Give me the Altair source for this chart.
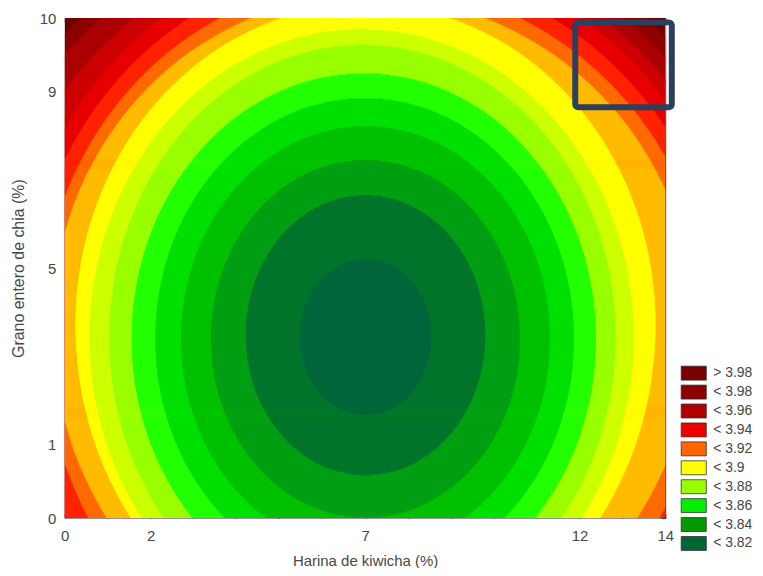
import numpy as np
import pandas as pd
import altair as alt

# ---- data -----------------------------------------------------------------
# contour lines (innermost first): level, centre and the four semi-axes
# (left, right, up, down); x in "Harina de kiwicha (%)", y in the coded
# design unit of the y axis
contour_levels = [3.82, 3.83, 3.84, 3.85, 3.86, 3.87, 3.88, 3.89,
                  3.90, 3.91, 3.92, 3.93, 3.94, 3.95, 3.96, 3.97]
contour_cx = [7.01, 7.01, 7.01, 7.01, 6.99, 6.97, 6.94, 6.92,
              7.01, 7.01, 7.01, 7.01, 7.01, 7.01, 7.01, 7.01]
contour_cy = [-0.39, -0.38, -0.40, -0.40, -0.40, -0.40, -0.39, -0.39,
              -0.32, -0.32, -0.32, -0.32, -0.32, -0.32, -0.32, -0.32]
contour_left = [1.53, 2.79, 3.60, 4.30, 4.88, 5.41, 5.90, 6.34,
                6.76, 7.30, 7.55, 7.89, 8.24, 8.80, 9.50, 9.82]
contour_right = [1.53, 2.79, 3.60, 4.30, 4.88, 5.41, 5.90, 6.34,
                 6.76, 7.66, 8.01, 8.36, 8.73, 9.03, 9.36, 9.68]
contour_up = [0.44, 0.79, 1.01, 1.20, 1.36, 1.50, 1.65, 1.74,
              1.81, 1.86, 1.94, 2.03, 2.12, 2.19, 2.27, 2.35]
contour_down = [0.44, 0.79, 1.01, 1.20, 1.36, 1.50, 1.65, 1.74,
                1.86, 1.94, 2.11, 2.42, 2.54, 2.65, 2.76, 2.87]

band_colors = ["#00663a", "#00742a", "#009e12", "#00c000", "#00e000",
               "#22ff00", "#99ff00", "#ccff00", "#ffff00", "#ffbb00",
               "#ff6a00", "#ff2200", "#e60000", "#cc0000", "#aa0000",
               "#8c0000", "#6e0000"]

legend_labels = ["> 3.98", "< 3.98", "< 3.96", "< 3.94", "< 3.92",
                 "< 3.9", "< 3.88", "< 3.86", "< 3.84", "< 3.82"]
legend_colors = ["#7a0000", "#8c0000", "#b00000", "#ee0000", "#ff6600",
                 "#ffff00", "#99ff00", "#00ee00", "#009900", "#006633"]

x_tick_values = [0, 2, 7, 12, 14]
y_tick_coded = [-1.41421, -1.0, 0.0, 1.0, 1.41421]
y_tick_labels = ["0", "1", "5", "9", "10"]

box_x = [11.9, 14.15]
box_y = [0.91, 1.39]

# ---- build the filled contour bands as row strips ---------------------------
X0, X1 = 0.0, 14.0
Y0, Y1 = y_tick_coded[0], y_tick_coded[-1]
n_rows = 502
edges = np.linspace(Y0, Y1, n_rows + 1)
eps = 0.002

rows = [dict(x0=X0, x1=X1, y0=Y0, y1=Y1, band=len(contour_levels))]
for n in reversed(range(len(contour_levels))):
    for i in range(n_rows):
        yc = 0.5 * (edges[i] + edges[i + 1])
        ay = contour_up[n] if yc >= contour_cy[n] else contour_down[n]
        d = (yc - contour_cy[n]) / ay
        if abs(d) >= 1:
            continue
        f = np.sqrt(1 - d * d)
        a = max(contour_cx[n] - contour_left[n] * f, X0)
        b = min(contour_cx[n] + contour_right[n] * f, X1)
        if b > a:
            rows.append(dict(x0=round(a, 4), x1=round(b, 4),
                             y0=round(edges[i] - eps, 4),
                             y1=round(edges[i + 1] + eps, 4), band=n))
bands = pd.DataFrame(rows)

xscale = alt.Scale(domain=[X0, X1], nice=False, zero=False)
yscale = alt.Scale(domain=[Y0, Y1], nice=False, zero=False)

label_expr = "'" + y_tick_labels[-1] + "'"
for k in range(len(y_tick_coded) - 2, -1, -1):
    mid = 0.5 * (y_tick_coded[k] + y_tick_coded[k + 1])
    label_expr = f"datum.value < {mid:.3f} ? '{y_tick_labels[k]}' : ({label_expr})"

FONT = "Liberation Sans"
TXT = "#474747"

band_layer = alt.Chart(bands).mark_rect(clip=True, strokeWidth=0).encode(
    x=alt.X("x0:Q", scale=xscale,
            axis=alt.Axis(values=x_tick_values, tickSize=0, domain=False,
                          labelPadding=11, labelFontSize=15, labelColor=TXT,
                          labelFont=FONT, title="Harina de kiwicha (%)",
                          titleFont=FONT, titleFontSize=15, titleColor=TXT,
                          titleFontWeight="normal", titlePadding=10,
                          grid=False, labelFlush=False)),
    x2="x1:Q",
    y=alt.Y("y0:Q", scale=yscale,
            axis=alt.Axis(values=y_tick_coded, labelExpr=label_expr,
                          tickSize=0, domain=False, labelPadding=9,
                          labelFontSize=15, labelColor=TXT, labelFont=FONT,
                          title="Grano entero de chia (%)", titleFont=FONT,
                          titleFontSize=16, titleColor=TXT,
                          titleFontWeight="normal", titlePadding=13,
                          grid=False, labelFlush=False)),
    y2="y1:Q",
    color=alt.Color("band:O",
                    scale=alt.Scale(domain=list(range(len(band_colors))),
                                    range=band_colors),
                    legend=None),
)

box_df = pd.DataFrame({"bx0": [box_x[0]], "bx1": [box_x[1]],
                       "by0": [box_y[0]], "by1": [box_y[1]]})
tick_axis = dict(labels=False, domain=False, title=None, grid=False,
                 tickSize=4, tickColor="#333333", tickWidth=1, offset=-4)
box_layer = alt.Chart(box_df).mark_rect(
    filled=False, stroke="#2b3f5e", strokeWidth=6, cornerRadius=3
).encode(
    x=alt.X("bx0:Q", scale=xscale,
            axis=alt.Axis(values=list(range(15)), orient="bottom", **tick_axis)),
    x2="bx1:Q",
    y=alt.Y("by0:Q", scale=yscale,
            axis=alt.Axis(values=[round(-1.4 + 0.2 * k, 2) for k in range(15)],
                          orient="left", **tick_axis)),
    y2="by1:Q",
)

legend_df = pd.DataFrame({"label": legend_labels, "color": legend_colors})
legend_layer = alt.Chart(legend_df).transform_calculate(
    lx="0", ly="0"
).mark_square(size=0).encode(
    x=alt.X("lx:Q", scale=xscale,
            axis=alt.Axis(values=[1.75 * k for k in range(9)], orient="top",
                          **tick_axis)),
    y=alt.Y("ly:Q", scale=yscale,
            axis=alt.Axis(values=[Y0 + (Y1 - Y0) * k / 8 for k in range(9)],
                          orient="right", **tick_axis)),
    color=alt.Color("label:N",
                    scale=alt.Scale(domain=legend_labels, range=legend_colors),
                    legend=alt.Legend(
                        orient="none", legendX=624, legendY=349, title=None,
                        symbolType="M-1.8,-1H1.8V1H-1.8Z", symbolSize=196,
                        symbolStrokeColor="#333333", symbolStrokeWidth=0.8,
                        symbolOpacity=1, labelFont=FONT, labelFontSize=14,
                        labelColor=TXT, labelOffset=12, rowPadding=0,
                        padding=0)),
)

chart = alt.layer(band_layer, box_layer, legend_layer).resolve_scale(
    color="independent"
).resolve_axis(
    x="independent", y="independent"
).properties(
    width=603, height=502,
    autosize=alt.AutoSizeParams(type="none"),
    padding={"left": 57, "top": 9, "right": 90, "bottom": 49},
).configure_view(
    stroke="#8c8c8c", strokeWidth=1
)

chart.save("out.html", embed_options={"renderer": "svg", "actions": False})
